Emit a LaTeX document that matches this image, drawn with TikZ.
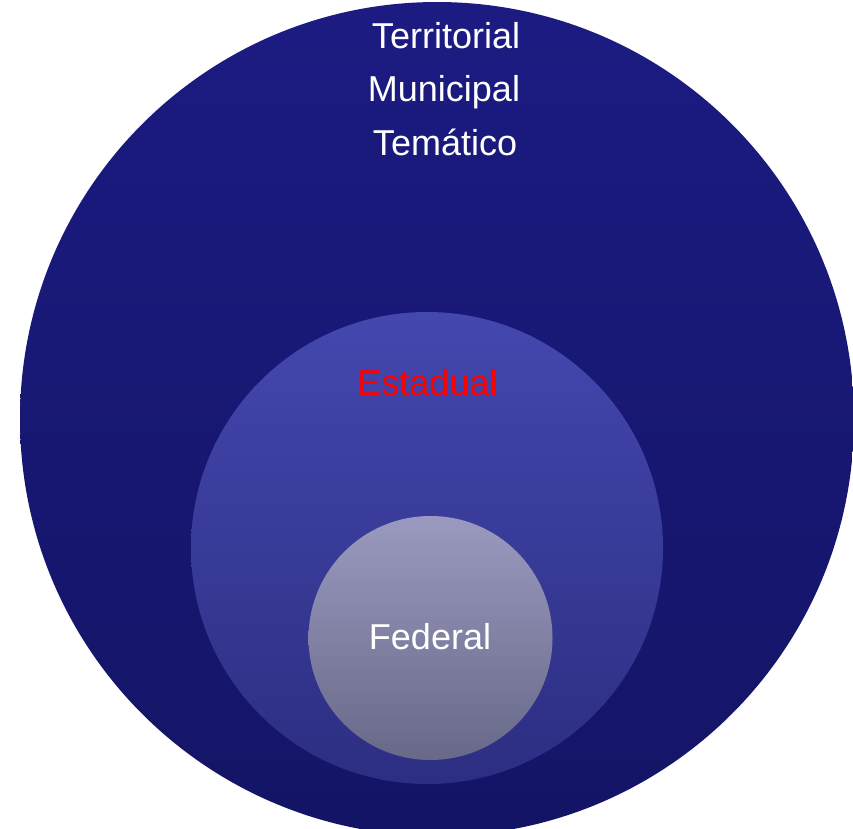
\documentclass[tikz,border=0pt]{standalone}
\usepackage{fontspec}
\setmainfont{Liberation Sans}
\definecolor{outertop}{RGB}{27,27,130}
\definecolor{outerbot}{RGB}{20,20,102}
\definecolor{midtop}{RGB}{68,71,174}
\definecolor{midbot}{RGB}{44,46,130}
\definecolor{fedtop}{RGB}{154,154,192}
\definecolor{fedbot}{RGB}{104,104,136}
\tikzset{
	ring/.style = {circle, inner sep=0pt, outer sep=0pt},
	ringtext/.style = {anchor=base, inner sep=0pt, text=white, font=\fontsize{36}{43}\selectfont}
}

\begin{document}
\begin{tikzpicture}[x=1pt, y=-1pt]
	\useasboundingbox (0,0) rectangle (853,828);
	% three nested circles
	\node[ring, minimum size=834pt, top color=outertop, bottom color=outerbot] (outer) at (437,419) {};
	\node[ring, minimum size=472pt, top color=midtop, bottom color=midbot] (estado) at (427,548) {};
	\node[ring, minimum size=244pt, top color=fedtop, bottom color=fedbot] (federal) at (430.5,638) {};
	% texts
	\node[ringtext] (territorial) at (446,48) {Territorial};
	\node[ringtext] (municipal) at (444,101) {Municipal};
	\node[ringtext] (tematico) at (445,155) {Temático};
	\node[ringtext, text=red] (estadual) at (427.5,395) {Estadual};
	\node[ringtext] (federaltext) at (430,649) {Federal};
\end{tikzpicture}
\end{document}
